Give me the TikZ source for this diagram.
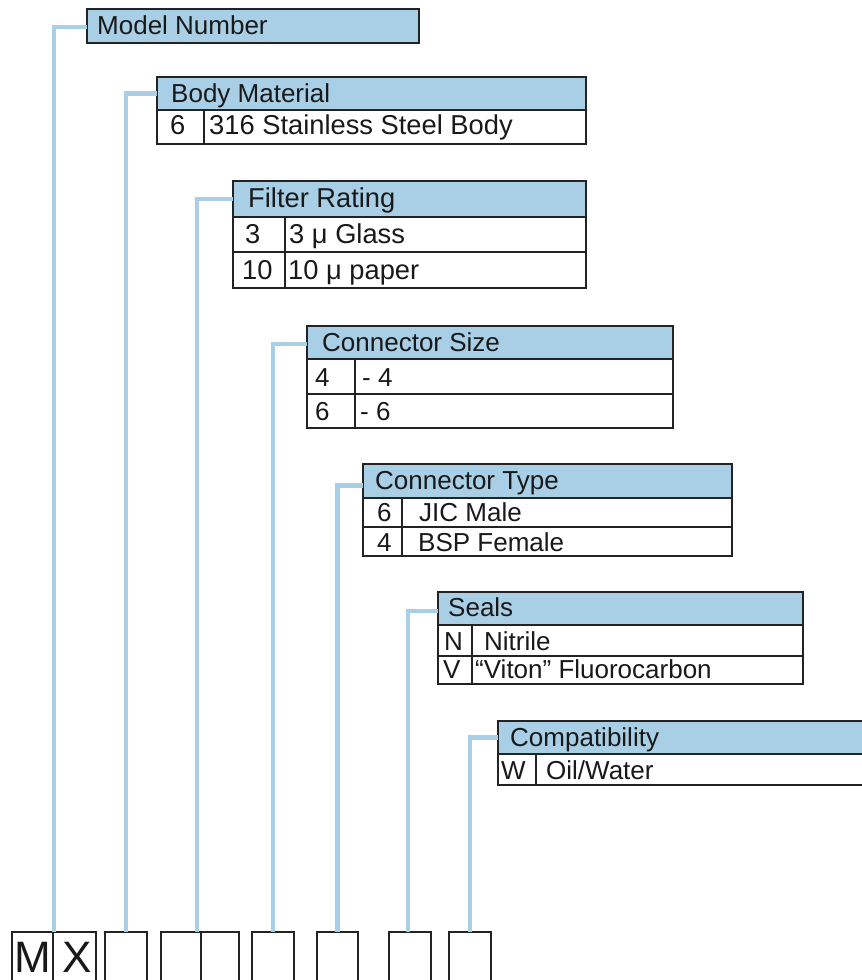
\documentclass[tikz,border=0pt]{standalone}
\usepackage{fontspec}
\setmainfont{Liberation Sans}
\definecolor{lblue}{RGB}{168,207,229}
\definecolor{bord}{RGB}{35,35,35}
\begin{document}
\begin{tikzpicture}[x=1pt,y=-1pt,
  hdr/.style={draw=bord, line width=1.2pt, fill=lblue, anchor=north west, inner sep=0pt, outer sep=0pt},
  cell/.style={draw=bord, line width=1.2pt, fill=white, anchor=north west, inner sep=0pt, outer sep=0pt},
  txt/.style={anchor=base west, inner sep=0pt, font=\fontsize{26}{30}\selectfont, text=black!90},
  txtl/.style={txt, font=\fontsize{27.3}{31}\selectfont},
  conn/.style={draw=lblue, line width=4.5pt},
  slot/.style={draw=bord, line width=1.2pt, anchor=north west, inner sep=0pt, outer sep=0pt, minimum height=60pt},
  big/.style={anchor=base, inner sep=0pt, font=\fontsize{44}{50}\selectfont, text=black!90}]
\useasboundingbox (0,0) rectangle (862,980);

% ---- Model Number
\node[hdr, minimum width=332pt, minimum height=34pt] (hMN) at (87,9) {};
\node[txt] (tMN) at (97,34) {Model Number};

% ---- Body Material
\node[hdr, minimum width=429pt, minimum height=33pt] (hBM) at (157,77) {};
\node[cell, minimum width=47pt, minimum height=34pt] (cBM1) at (157,110) {};
\node[cell, minimum width=382pt, minimum height=34pt] (dBM1) at (204,110) {};
\node[txt] (tBM) at (171,102) {Body Material};
\node[txtl] (kBM1) at (170,134) {6};
\node[txtl] (vBM1) at (209,134) {316 Stainless Steel Body};

% ---- Filter Rating
\node[hdr, minimum width=353pt, minimum height=36pt] (hFR) at (233,181) {};
\node[cell, minimum width=52pt, minimum height=35pt] (cFR1) at (233,217) {};
\node[cell, minimum width=301pt, minimum height=35pt] (dFR1) at (285,217) {};
\node[cell, minimum width=52pt, minimum height=36pt] (cFR2) at (233,252) {};
\node[cell, minimum width=301pt, minimum height=36pt] (dFR2) at (285,252) {};
\node[txtl] (tFR) at (248,207) {Filter Rating};
\node[txtl] (kFR1) at (245,243) {3};
\node[txtl] (vFR1) at (289,243) {3 μ Glass};
\node[txtl] (kFR2) at (242,279) {10};
\node[txtl] (vFR2) at (288,279) {10 μ paper};

% ---- Connector Size
\node[hdr, minimum width=366pt, minimum height=33pt] (hCS) at (307,326) {};
\node[cell, minimum width=48pt, minimum height=35pt] (cCS1) at (307,359) {};
\node[cell, minimum width=318pt, minimum height=35pt] (dCS1) at (355,359) {};
\node[cell, minimum width=48pt, minimum height=34pt] (cCS2) at (307,394) {};
\node[cell, minimum width=318pt, minimum height=34pt] (dCS2) at (355,394) {};
\node[txt] (tCS) at (322,351) {Connector Size};
\node[txt] (kCS1) at (315,386) {4};
\node[txt] (vCS1) at (362,386) {- 4};
\node[txt] (kCS2) at (315,420) {6};
\node[txt] (vCS2) at (360,420) {- 6};

% ---- Connector Type
\node[hdr, minimum width=369pt, minimum height=34pt] (hCT) at (363,464) {};
\node[cell, minimum width=39pt, minimum height=29pt] (cCT1) at (363,498) {};
\node[cell, minimum width=330pt, minimum height=29pt] (dCT1) at (402,498) {};
\node[cell, minimum width=39pt, minimum height=29pt] (cCT2) at (363,527) {};
\node[cell, minimum width=330pt, minimum height=29pt] (dCT2) at (402,527) {};
\node[txt] (tCT) at (375,489) {Connector Type};
\node[txt] (kCT1) at (377,521) {6};
\node[txt] (vCT1) at (419,521) {JIC Male};
\node[txt] (kCT2) at (377,551) {4};
\node[txt] (vCT2) at (418,551) {BSP Female};

% ---- Seals
\node[hdr, minimum width=365pt, minimum height=33pt] (hSE) at (438,592) {};
\node[cell, minimum width=34pt, minimum height=31pt] (cSE1) at (438,625) {};
\node[cell, minimum width=331pt, minimum height=31pt] (dSE1) at (472,625) {};
\node[cell, minimum width=34pt, minimum height=28pt] (cSE2) at (438,656) {};
\node[cell, minimum width=331pt, minimum height=28pt] (dSE2) at (472,656) {};
\node[txt] (tSE) at (448,616) {Seals};
\node[txt] (kSE1) at (444,650) {N};
\node[txt] (vSE1) at (484,650) {Nitrile};
\node[txt] (kSE2) at (443,678) {V};
\node[txt] (vSE2) at (475,678) {“Viton” Fluorocarbon};

% ---- Compatibility
\node[hdr, minimum width=372pt, minimum height=33pt] (hCO) at (498,721) {};
\node[cell, minimum width=38pt, minimum height=31pt] (cCO1) at (498,754) {};
\node[cell, minimum width=336pt, minimum height=31pt] (dCO1) at (536,754) {};
\node[txt] (tCO) at (510,746) {Compatibility};
\node[txt] (kCO1) at (501,779) {W};
\node[txt] (vCO1) at (546,779) {Oil/Water};

% ---- bottom slots
\node[slot, minimum width=41pt] (sM) at (12,932) {};
\node[slot, minimum width=43pt] (sX) at (53,932) {};
\node[slot, minimum width=42pt] (s3) at (105,932) {};
\node[slot, minimum width=40pt] (s4) at (161,932) {};
\node[slot, minimum width=38pt] (s5) at (201,932) {};
\node[slot, minimum width=42pt] (s6) at (252,932) {};
\node[slot, minimum width=41pt] (s7) at (317,932) {};
\node[slot, minimum width=42pt] (s8) at (389,932) {};
\node[slot, minimum width=42pt] (s9) at (449,932) {};
\node[big] (lM) at (33,972) {M};
\node[big] (lX) at (77,972) {X};

% ---- connectors
\draw[conn] ([yshift=-1pt]hMN.west) -| ([xshift=1pt]sX.north west);
\draw[conn] (hBM.west) -| (s3.north);
\draw[conn] (hFR.west) -| ([xshift=-4pt]s5.north west);
\draw[conn] ([yshift=-1.5pt]hCS.west) -| (s6.north);
\draw[conn] ([yshift=-4.5pt]hCT.west) -| (s7.north);
\draw[conn] ([yshift=-2.5pt]hSE.west) -| ([xshift=-2pt]s8.north);
\draw[conn] (hCO.west) -| (s9.north);
\end{tikzpicture}
\end{document}
